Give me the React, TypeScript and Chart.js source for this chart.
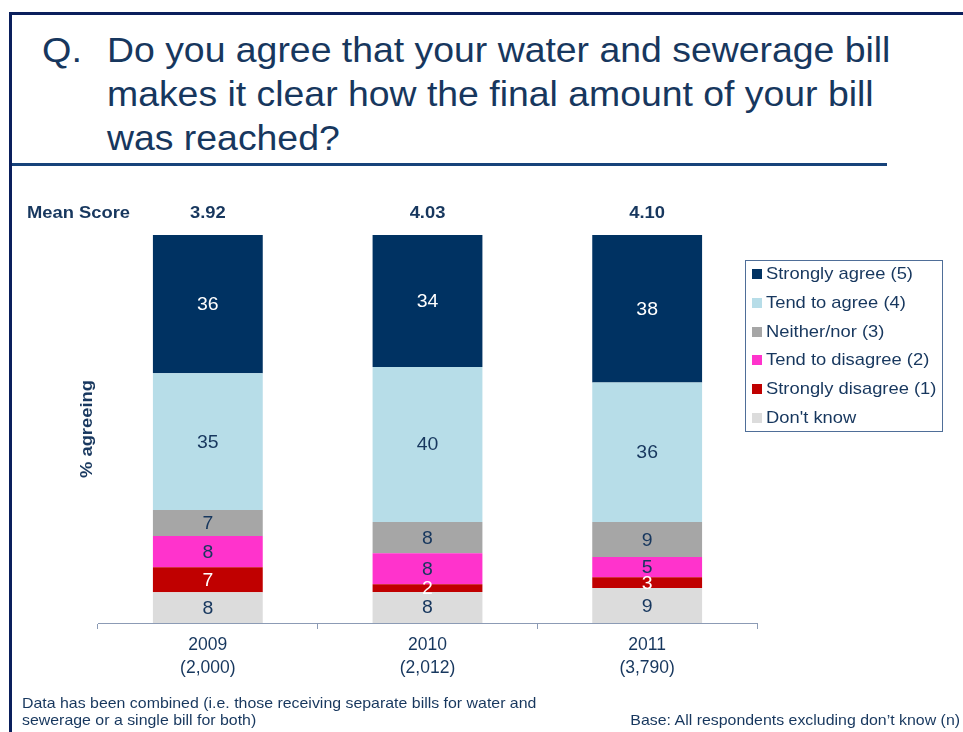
import React, { useEffect, useRef } from "react";
import { Chart, registerables } from "chart.js";

Chart.register(...registerables);

const years = ["2009", "2010", "2011"];
const bases = ["(2,000)", "(2,012)", "(3,790)"];
const meanScores = ["3.92", "4.03", "4.10"];

const seriesNames = [
  "Don't know",
  "Strongly disagree (1)",
  "Tend to disagree (2)",
  "Neither/nor (3)",
  "Tend to agree (4)",
  "Strongly agree (5)",
];
const dontKnow = [7.9, 8, 9];
const stronglyDisagree = [6.5, 2, 2.8];
const tendDisagree = [8, 8, 5.2];
const neither = [6.7, 8, 9];
const tendAgree = [35.3, 40, 36];
const stronglyAgree = [35.6, 34, 38];

const seriesColors = ["#DCDCDC", "#C00000", "#FF33CC", "#A6A6A6", "#B7DDE8", "#003262"];
const labelColors = ["#17375E", "#FFFFFF", "#17375E", "#17375E", "#17375E", "#FFFFFF"];

const NAVY = "#17375E";
const FONT = "Arial, 'Liberation Sans', sans-serif";
const STRETCH = 1.08;

function stretchedText(ctx: any, text: string, x: number, y: number, align: string) {
  ctx.save();
  ctx.translate(x, y);
  ctx.scale(STRETCH, 1);
  ctx.textAlign = align;
  ctx.fillText(text, 0, 0);
  ctx.restore();
}

const segmentLabels = {
  id: "segmentLabels",
  afterDatasetsDraw(chart: any) {
    const ctx = chart.ctx;
    ctx.save();
    ctx.font = `18px ${FONT}`;
    ctx.textBaseline = "middle";
    chart.data.datasets.forEach((ds: any, di: number) => {
      const meta = chart.getDatasetMeta(di);
      meta.data.forEach((bar: any, i: number) => {
        const v = ds.data[i];
        const mid = (bar.y + bar.base) / 2;
        ctx.fillStyle = labelColors[di];
        stretchedText(ctx, String(Math.round(v)), bar.x, mid + 1, "center");
      });
    });
    const xs = chart.scales.x;
    ctx.font = `bold 17px ${FONT}`;
    ctx.fillStyle = NAVY;
    meanScores.forEach((m, i) => {
      stretchedText(ctx, m, xs.getPixelForValue(i), 213, "center");
    });
    stretchedText(ctx, "Mean Score", 27, 213, "left");
    ctx.restore();
  },
};

export default function App() {
  const ref = useRef<HTMLCanvasElement>(null);
  useEffect(() => {
    const data = [dontKnow, stronglyDisagree, tendDisagree, neither, tendAgree, stronglyAgree];
    const chart = new Chart(ref.current!, {
      type: "bar",
      data: {
        labels: years.map((y, i) => [y, bases[i]]),
        datasets: data.map((d, i) => ({
          label: seriesNames[i],
          data: d,
          backgroundColor: seriesColors[i],
          borderWidth: 0,
          categoryPercentage: 1,
          barPercentage: 0.5,
        })),
      },
      options: {
        animation: false,
        responsive: false,
        maintainAspectRatio: false,
        layout: { padding: { left: 98, right: 206, top: 235, bottom: 0 } },
        plugins: { legend: { display: false }, tooltip: { enabled: false }, title: { display: false } },
        scales: {
          x: {
            stacked: true,
            offset: true,
            grid: {
              offset: true,
              drawOnChartArea: false,
              drawTicks: true,
              tickLength: 6,
              color: "#8C9BB5",
            },
            border: { display: true, color: "#8C9BB5", width: 1 },
            ticks: {
              color: NAVY,
              font: { family: FONT, size: 17.5, lineHeight: 1.29 },
              padding: 5,
              maxRotation: 0,
            },
            afterFit(scale: any) {
              scale.height = 732 - 623;
            },
          },
          y: {
            stacked: true,
            display: false,
            min: 0,
            max: 100,
          },
        },
      },
      plugins: [segmentLabels],
    });
    return () => chart.destroy();
  }, []);

  const legendOrder = [5, 4, 3, 2, 1, 0];
  const stretch = { transform: "scaleX(1.08)", transformOrigin: "left center" };

  return (
    <div style={{ position: "absolute", left: 0, top: 0, width: 963, height: 732, overflow: "hidden", background: "#fff", fontFamily: FONT, color: NAVY }}>
      <div style={{ position: "absolute", left: 9, top: 12, width: 954, height: 3, background: "#0A1F5C" }} />
      <div style={{ position: "absolute", left: 9, top: 12, width: 3, height: 720, background: "#0A1F5C" }} />
      <div style={{ position: "absolute", left: 12, top: 163, width: 875, height: 3, background: "#17437A" }} />
      <div style={{ position: "absolute", left: 42, top: 28, fontSize: 35, lineHeight: "44px", ...stretch }}>Q.</div>
      <div style={{ position: "absolute", left: 107, top: 28, fontSize: 35, lineHeight: "44px", whiteSpace: "nowrap", transform: "scaleX(1.068)", transformOrigin: "left center" }}>
        Do you agree that your water and sewerage bill<br />
        makes it clear how the final amount of your bill<br />
        was reached?
      </div>
      <canvas ref={ref} width={963} height={732} style={{ position: "absolute", left: 0, top: 0, width: 963, height: 732 }} />
      <div style={{ position: "absolute", left: 87, top: 429, transform: "translate(-50%, -50%) rotate(-90deg) scaleX(1.08)", fontWeight: "bold", fontSize: 17, whiteSpace: "nowrap" }}>
        % agreeing
      </div>
      <div style={{ position: "absolute", left: 745, top: 260, width: 198, height: 172, border: "1px solid #4F6E98", boxSizing: "border-box" }}>
        {legendOrder.map((si, k) => (
          <div key={si} style={{ position: "absolute", left: 6, top: 13 + k * 28.8 - 10, height: 20, display: "flex", alignItems: "center", fontSize: 17, whiteSpace: "nowrap" }}>
            <span style={{ display: "inline-block", width: 10, height: 10, background: seriesColors[si], marginRight: 4 }} />
            <span style={{ display: "inline-block", ...stretch }}>{seriesNames[si]}</span>
          </div>
        ))}
      </div>
      <div style={{ position: "absolute", left: 22, top: 694, fontSize: 15, lineHeight: "17px", whiteSpace: "nowrap", transform: "scaleX(1.06)", transformOrigin: "left center" }}>
        Data has been combined (i.e. those receiving separate bills for water and<br />
        sewerage or a single bill for both)
      </div>
      <div style={{ position: "absolute", right: 3, top: 711, fontSize: 15, lineHeight: "17px", whiteSpace: "nowrap", transform: "scaleX(1.06)", transformOrigin: "right center" }}>
        Base: All respondents excluding don’t know (n)
      </div>
    </div>
  );
}
